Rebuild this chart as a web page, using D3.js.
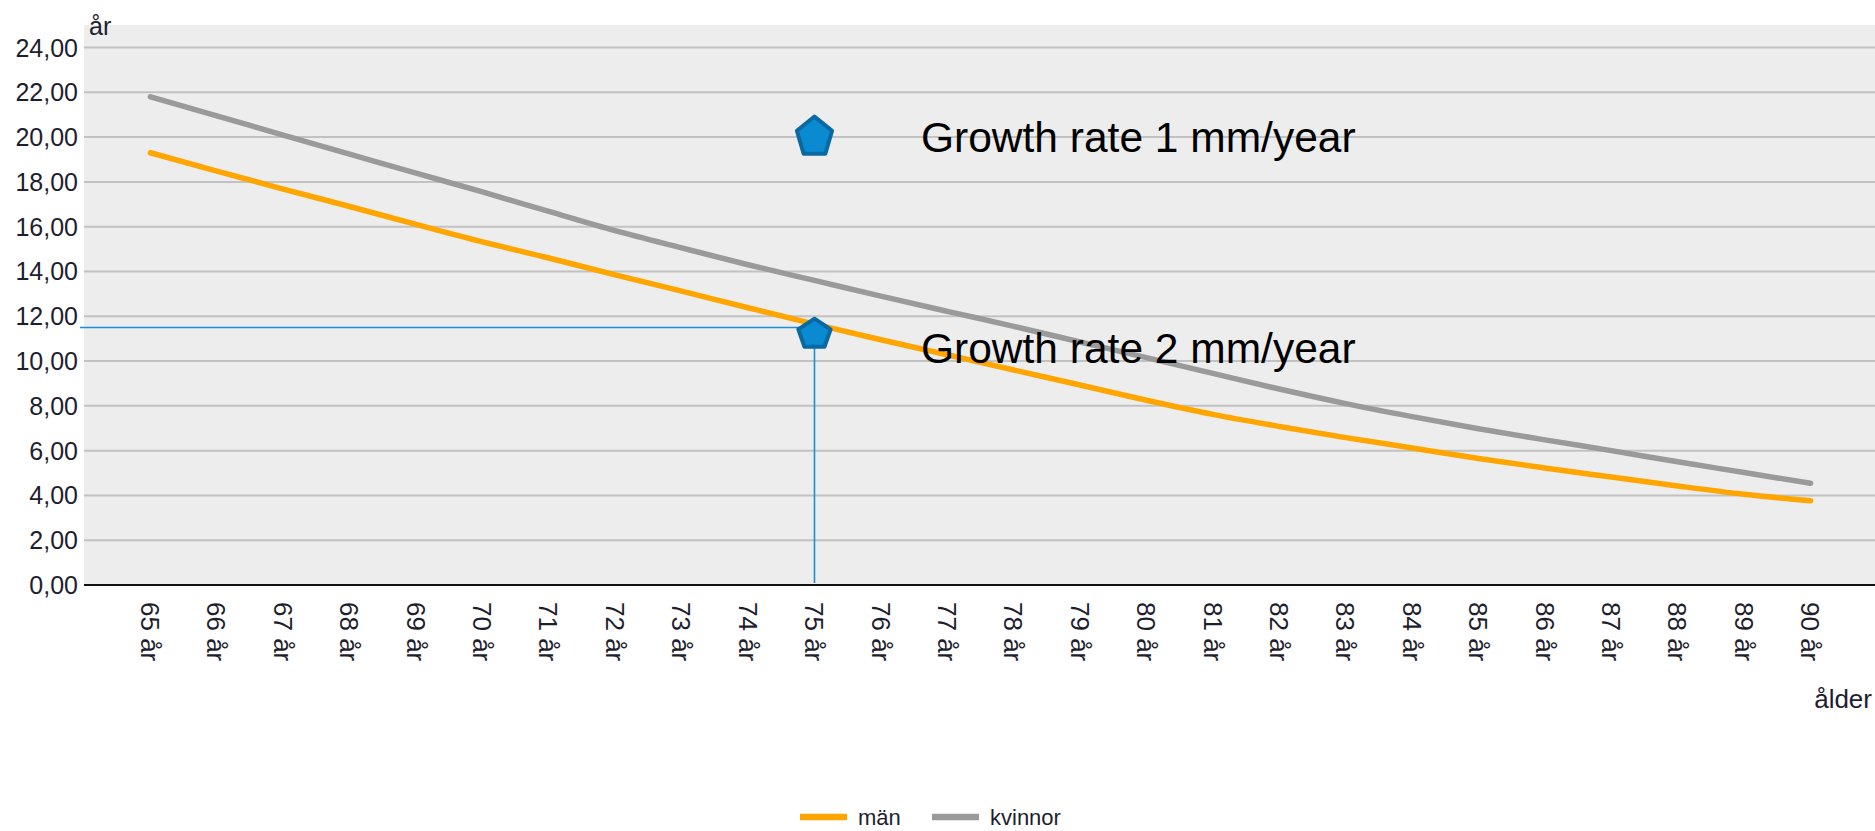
<!DOCTYPE html>
<html>
<head>
<meta charset="utf-8">
<script src="https://cdn.jsdelivr.net/npm/d3@7"></script>
<style>
  html, body { margin: 0; padding: 0; background: #fff; }
  svg { display: block; font-family: "Liberation Sans", Arial, sans-serif; }
</style>
</head>
<body>
<svg id="chart" width="1875" height="831"></svg>
<script>
// ---- data ----
const ages = [65,66,67,68,69,70,71,72,73,74,75,76,77,78,79,80,81,82,83,84,85,86,87,88,89,90];
const ageLabels = ages.map(a => a + " år");
const men = [19.30,18.48,17.68,16.90,16.10,15.32,14.60,13.85,13.12,12.38,11.65,10.95,10.28,9.60,8.93,8.25,7.62,7.08,6.58,6.12,5.65,5.22,4.82,4.42,4.05,3.76];
const women = [21.80,20.95,20.09,19.24,18.39,17.55,16.68,15.82,15.05,14.30,13.60,12.90,12.22,11.55,10.85,10.15,9.45,8.75,8.10,7.52,6.98,6.48,6.00,5.50,5.02,4.54];
const yTicks = [0,2,4,6,8,10,12,14,16,18,20,22,24];
const seriesNames = ["män", "kvinnor"];
const markerAges = [75, 75];
const markerValues = [20, 11.2];
const markerLabels = ["Growth rate 1 mm/year", "Growth rate 2 mm/year"];
const labelValues = [20, 10.6];
const guideValue = 11.5;

// ---- layout ----
const svg = d3.select("#chart");
const plotLeft = 84, plotRight = 1877, plotTop = 25, plotBottom = 585;

const x = d3.scalePoint().domain(ages).range([plotLeft, plotRight]).padding(1);
const y = d3.scaleLinear().domain([0, 24]).range([plotBottom, 47.5]);

// background
svg.append("rect").attr("x", plotLeft).attr("y", plotTop)
  .attr("width", 1875 - plotLeft).attr("height", plotBottom - plotTop)
  .attr("fill", "#ededed");

// grid
svg.append("g").selectAll("line").data(yTicks.filter(d => d > 0)).join("line")
  .attr("x1", plotLeft).attr("x2", 1875)
  .attr("y1", d => y(d)).attr("y2", d => y(d))
  .attr("stroke", "#c2c2c2").attr("stroke-width", 2);

// y axis labels
const fmt = d => d.toFixed(2).replace(".", ",");
svg.append("g").selectAll("text").data(yTicks).join("text")
  .attr("x", 78).attr("y", d => y(d)).attr("dy", "0.36em")
  .attr("text-anchor", "end").attr("font-size", 25).attr("fill", "#1e1e2e")
  .text(fmt);

// x axis line
svg.append("line").attr("x1", plotLeft).attr("x2", 1875)
  .attr("y1", y(0)).attr("y2", y(0)).attr("stroke", "#111").attr("stroke-width", 2);

// x labels rotated
svg.append("g").selectAll("text").data(ages).join("text")
  .attr("transform", d => `translate(${x(d)},602) rotate(90)`)
  .attr("dy", "0.36em").attr("text-anchor", "start")
  .attr("font-size", 26).attr("fill", "#1e1e2e")
  .text((d, i) => ageLabels[i]);

// axis titles
svg.append("text").attr("x", 89).attr("y", 35).attr("font-size", 25).attr("fill", "#1e1e2e").text("år");
svg.append("text").attr("x", 1872).attr("y", 708).attr("text-anchor", "end")
  .attr("font-size", 26).attr("fill", "#1e1e2e").text("ålder");

// lines
const line = d3.line().x((d, i) => x(ages[i])).y(d => y(d)).curve(d3.curveMonotoneX);
const colors = ["#ffa500", "#9a9a9a"];
[men, women].forEach((s, k) => {
  svg.append("path").attr("d", line(s)).attr("fill", "none")
    .attr("stroke", colors[k]).attr("stroke-width", 5.5)
    .attr("stroke-linecap", "round").attr("stroke-linejoin", "round");
});

// guide lines (blue)
svg.append("line").attr("x1", 80).attr("x2", x(markerAges[1]))
  .attr("y1", y(guideValue)).attr("y2", y(guideValue))
  .attr("stroke", "#1a8fd6").attr("stroke-width", 1.6);
svg.append("line").attr("x1", x(markerAges[1])).attr("x2", x(markerAges[1]))
  .attr("y1", y(markerValues[1])).attr("y2", y(0) - 2)
  .attr("stroke", "#1a8fd6").attr("stroke-width", 1.6);

// pentagon markers
const markerSizes = [[18.5, 20.5], [17, 15.5]];
const unit = [[0,-1],[0.951,-0.309],[0.588,0.809],[-0.588,0.809],[-0.951,-0.309]];
markerValues.forEach((v, i) => {
  const [sx, sy] = markerSizes[i];
  const cx = x(markerAges[i]), cy = y(v);
  const pts = unit.map(p => [cx + p[0] * sx, cy + p[1] * sy].join(",")).join(" ");
  svg.append("polygon").attr("points", pts)
    .attr("fill", "#0a8ad0").attr("stroke", "#0a69a3").attr("stroke-width", 4)
    .attr("stroke-linejoin", "round");
});

// annotation labels
markerLabels.forEach((t, i) => {
  svg.append("text").attr("x", 921).attr("y", y(labelValues[i])).attr("dy", "0.36em")
    .attr("font-size", 42.5).attr("fill", "#000").text(t);
});

// legend
const legendX = [800, 932];
seriesNames.forEach((n, i) => {
  svg.append("line").attr("x1", legendX[i]).attr("x2", legendX[i] + 47)
    .attr("y1", 817).attr("y2", 817).attr("stroke", colors[i]).attr("stroke-width", 6.5);
  svg.append("text").attr("x", legendX[i] + 58).attr("y", 825)
    .attr("font-size", 22).attr("fill", "#1e1e2e").text(n);
});
</script>
</body>
</html>
